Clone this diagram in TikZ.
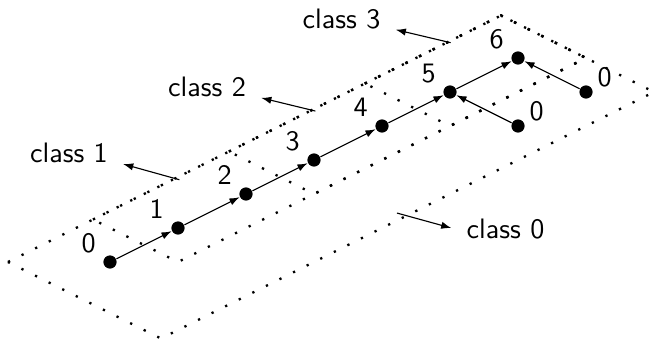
\documentclass[tikz,border=0pt]{standalone}
\usepackage{tikz}
\usetikzlibrary{positioning, arrows.meta}
\tikzset{
  % --- vertices of the path (circle | number) ---
  vertex/.style={circle, fill=black, inner sep=0pt, minimum size=4.7pt},
  vtxlabel/.style={font=\sffamily, inner sep=0.5pt},
  % --- edges between vertices ---
  link/.style={-{Latex[length=3.6pt, width=2.6pt]}, line width=0.4pt},
  % --- class regions and their names ---
  region/.style={line width=0.8pt, dash pattern=on 0.8pt off 4.6pt},
  classname/.style={font=\sffamily},
  pointer/.style={-{Latex[length=3.6pt, width=2.6pt]}, line width=0.4pt,
    shorten >=2pt},
}

\begin{document}
\begin{tikzpicture}[x={(0.85cm,0.425cm)}, y={(0.85cm,-0.425cm)}]
    \useasboundingbox (-1.375cm,-0.9625cm) rectangle (6.825cm,3.275cm);
    % class regions
    \draw[region] (-0.75,-0.75) -- (6.5,-0.75) -- (6.5,1.5) -- (-0.75,1.5) -- cycle;
    \foreach \s in {0.5,2.5,4.5}{
      \draw[region] (\s,-0.75) -- (6.5,-0.75) -- (6.5,0.5) -- (\s,0.5) -- cycle; }
    % path vertices
    \foreach \i in {0,...,6}{
      \node[vertex, label={[vtxlabel, label distance=2.5pt]150:\i}] (n\i) at (\i,0) {}; }
    % leaves
    \node[vertex, label={[vtxlabel, label distance=1pt]15:0}] (l5) at (5,1) {};
    \node[vertex, label={[vtxlabel, label distance=1pt]15:0}] (l6) at (6,1) {};
    % edges
    \foreach \i/\j in {0/1,1/2,2/3,3/4,4/5,5/6}{ \draw[link] (n\i) -- (n\j); }
    \draw[link] (l5) -- (n5);
    \draw[link] (l6) -- (n6);
    % class names
    \node[classname] (c0) at (4.944cm,0.406cm)  {class 0};
    \node[classname] (c1) at (-0.513cm,1.363cm) {class 1};
    \node[classname] (c2) at (1.213cm,2.188cm)  {class 2};
    \node[classname] (c3) at (2.894cm,3.038cm)  {class 3};
    % pointers from the regions
    \coordinate (t0) at (2.83,1.39);
    \coordinate (t1) at (1.72,-0.7);
    \coordinate (t2) at (3.73,-0.71);
    \coordinate (t3) at (5.73,-0.72);
    \draw[pointer] (t0) -- (c0.west);
    \draw[pointer] (t1) -- (c1.base east);
    \draw[pointer] (t2) -- (c2.base east);
    \draw[pointer] (t3) -- (c3.base east);
\end{tikzpicture}
\end{document}
